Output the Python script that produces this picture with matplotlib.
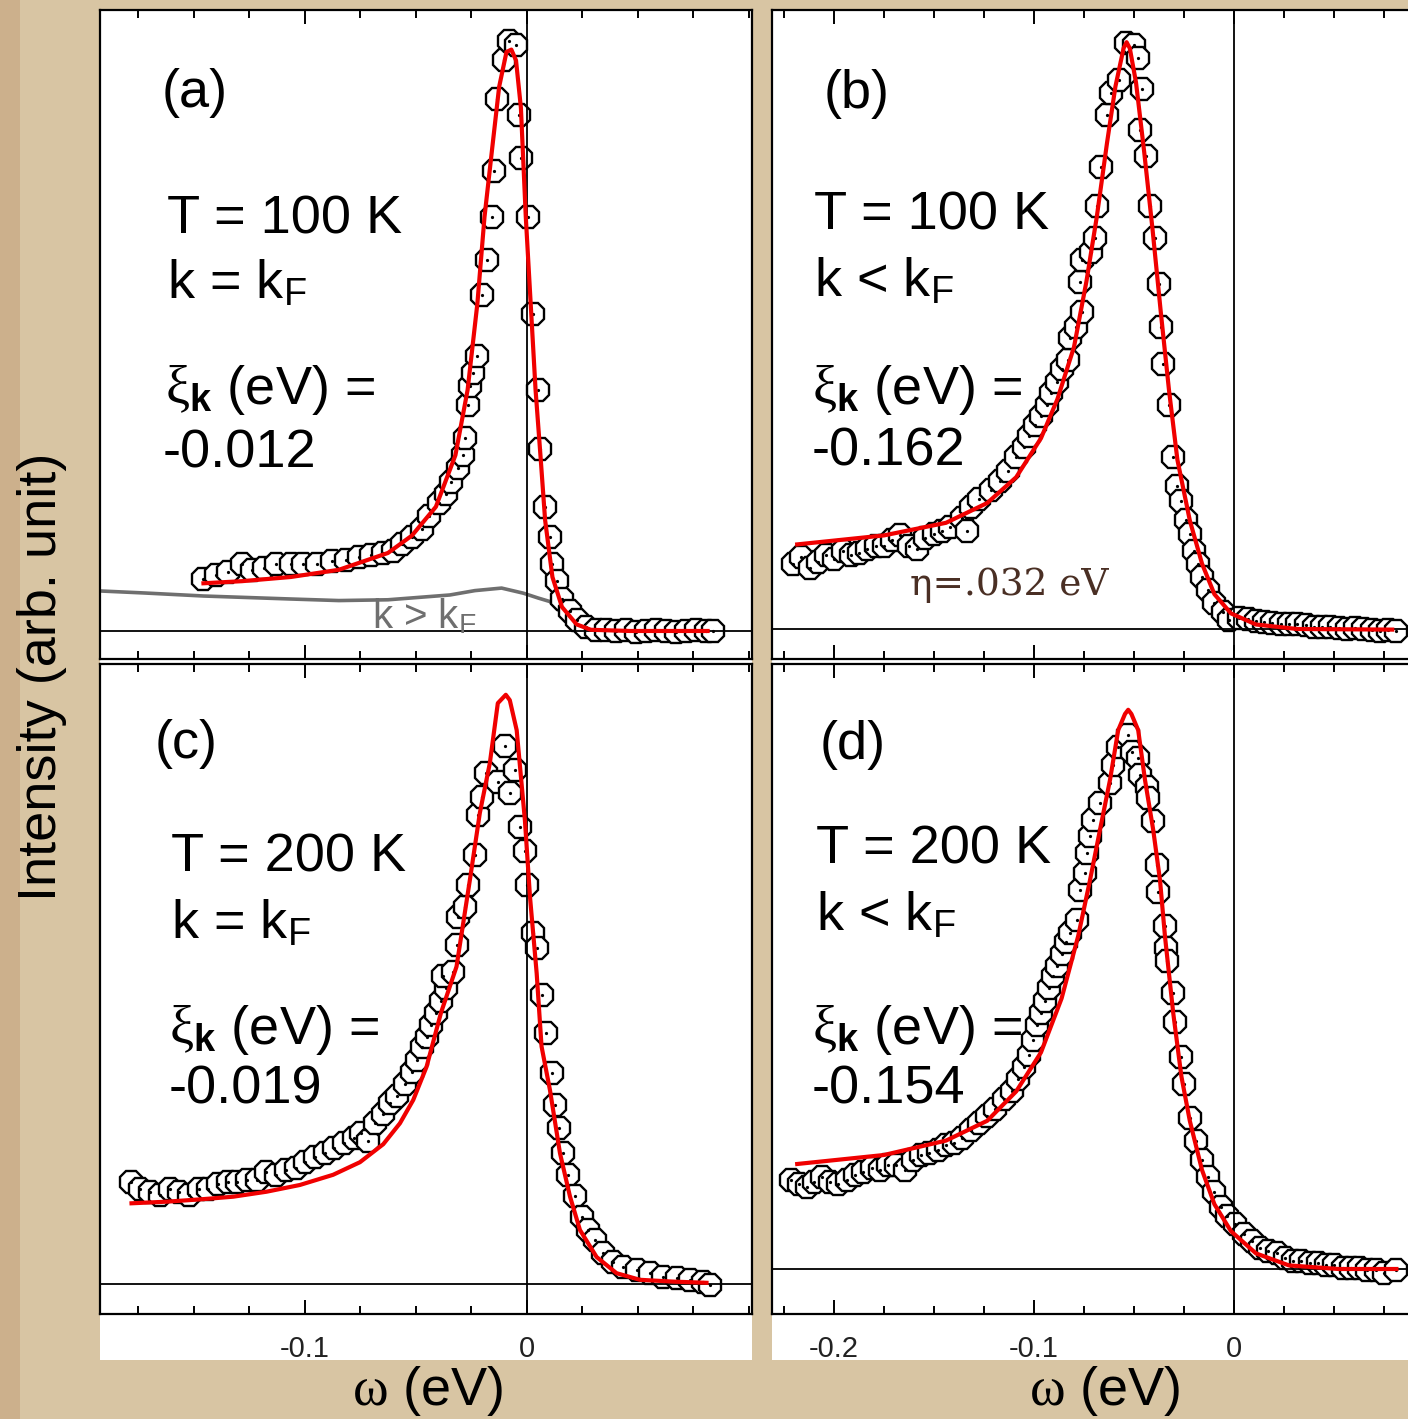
import matplotlib.pyplot as plt
from matplotlib.patches import Rectangle
from matplotlib.ticker import FixedLocator, MultipleLocator

plt.rcParams['font.family'] = ['Liberation Sans', 'DejaVu Sans']
plt.rcParams['mathtext.fontset'] = 'custom'
plt.rcParams['mathtext.rm'] = 'Liberation Serif'
plt.rcParams['mathtext.it'] = 'Liberation Serif:italic'
plt.rcParams['mathtext.bf'] = 'Liberation Sans:bold'

# ---------------- data (omega in eV, intensity in arb. unit) ----------------
# (a) T = 100 K, k = kF
a_w = [-0.1457, -0.1402, -0.1348, -0.1282, -0.1238, -0.1184, -0.1129, -0.1064, -0.1009, -0.0944,
       -0.0878, -0.0813, -0.0758, -0.0704, -0.0649, -0.0605, -0.0562, -0.0518, -0.0474, -0.0441,
       -0.0398, -0.0365, -0.0343, -0.0310, -0.0289, -0.0278, -0.0267, -0.0256, -0.0245, -0.0223,
       -0.0201, -0.0180, -0.0158, -0.0147, -0.0136, -0.0103, -0.0081, -0.0049, -0.0037, -0.0027,
       0.0006, 0.0028, 0.0050, 0.0061, 0.0082, 0.0105, 0.0115, 0.0137, 0.0159, 0.0192,
       0.0224, 0.0268, 0.0311, 0.0356, 0.0401, 0.0446, 0.0491, 0.0536, 0.0581, 0.0626,
       0.0671, 0.0716, 0.0761, 0.0806, 0.0838]
a_i = [0.087, 0.094, 0.098, 0.112, 0.101, 0.105, 0.112, 0.112, 0.112, 0.112,
       0.116, 0.119, 0.123, 0.127, 0.130, 0.134, 0.145, 0.156, 0.170, 0.192,
       0.213, 0.228, 0.249, 0.271, 0.293, 0.322, 0.376, 0.409, 0.430, 0.459,
       0.560, 0.618, 0.690, 0.766, 0.886, 0.951, 0.983, 0.976, 0.860, 0.788,
       0.690, 0.528, 0.401, 0.304, 0.206, 0.156, 0.112, 0.083, 0.054, 0.033,
       0.018, 0.007, 0.002, 0.001, 0.000, 0.001, -0.001, 0.000, 0.001, 0.000,
       -0.001, 0.000, 0.001, 0.000, 0.000]
af_w = [-0.1457, -0.1284, -0.1063, -0.0847, -0.0626, -0.0518, -0.0410, -0.0322, -0.0267, -0.0223,
        -0.0191, -0.0158, -0.0125, -0.0092, -0.0070, -0.0049, -0.0027, -0.0005, 0.0017, 0.0039,
        0.0061, 0.0082, 0.0115, 0.0158, 0.0224, 0.0288, 0.0464, 0.0814]
af_i = [0.0795, 0.083, 0.090, 0.102, 0.130, 0.159, 0.207, 0.293, 0.402, 0.546,
        0.690, 0.799, 0.907, 0.965, 0.969, 0.951, 0.872, 0.690, 0.546, 0.402,
        0.293, 0.185, 0.090, 0.040, 0.011, 0.002, 0.000, 0.000]
# grey reference curve k > kF in (a)
ag_w = [-0.1923, -0.1721, -0.1457, -0.1064, -0.0847, -0.0626, -0.0347, -0.0234, -0.0114, -0.0016,
        0.0050, 0.0104, 0.0137, 0.0194]
ag_i = [0.0667, 0.0633, 0.0583, 0.0533, 0.0507, 0.0520, 0.0600, 0.0673, 0.0715, 0.0630,
        0.0550, 0.0490, 0.0362, 0.0217]

# (b) T = 100 K, k < kF
b_w = [-0.2204, -0.2164, -0.2122, -0.2081, -0.2040, -0.1998, -0.1957, -0.1916, -0.1874, -0.1833,
       -0.1792, -0.1750, -0.1709, -0.1668, -0.1626, -0.1585, -0.1544, -0.1502, -0.1461, -0.1420,
       -0.1358, -0.1337, -0.1317, -0.1275, -0.1213, -0.1172, -0.1131, -0.1089, -0.1048, -0.1027,
       -0.0996, -0.0965, -0.0934, -0.0914, -0.0883, -0.0862, -0.0831, -0.0821, -0.0790, -0.0759,
       -0.0769, -0.0759, -0.0717, -0.0697, -0.0686, -0.0666, -0.0635, -0.0614, -0.0573, -0.0542,
       -0.0500, -0.0480, -0.0459, -0.0469, -0.0438, -0.0418, -0.0397, -0.0376, -0.0366, -0.0356,
       -0.0325, -0.0304, -0.0283, -0.0263, -0.0242, -0.0221, -0.0201, -0.0180, -0.0160, -0.0129,
       -0.0098, -0.0056, -0.0025, 0.0027, 0.0070, 0.0110, 0.0151, 0.0192, 0.0234, 0.0275,
       0.0316, 0.0358, 0.0399, 0.0440, 0.0481, 0.0523, 0.0564, 0.0605, 0.0647, 0.0688,
       0.0729, 0.0771, 0.0812]
b_i = [0.109, 0.120, 0.102, 0.112, 0.123, 0.116, 0.130, 0.123, 0.127, 0.134,
       0.138, 0.138, 0.149, 0.156, 0.138, 0.134, 0.152, 0.159, 0.163, 0.170,
       0.185, 0.163, 0.203, 0.217, 0.232, 0.246, 0.264, 0.286, 0.304, 0.322,
       0.340, 0.355, 0.373, 0.394, 0.412, 0.434, 0.449, 0.485, 0.503, 0.528,
       0.579, 0.615, 0.629, 0.651, 0.705, 0.770, 0.857, 0.893, 0.915, 0.976,
       0.973, 0.951, 0.900, 0.832, 0.788, 0.705, 0.651, 0.575, 0.503, 0.441,
       0.373, 0.286, 0.239, 0.214, 0.181, 0.159, 0.130, 0.109, 0.087, 0.065,
       0.044, 0.029, 0.015, 0.018, 0.016, 0.014, 0.011, 0.010, 0.008, 0.008,
       0.008, 0.006, 0.004, 0.004, 0.004, 0.002, 0.000, 0.001, 0.000, -0.001,
       -0.003, -0.002, -0.003]
bf_w = [-0.2184, -0.1750, -0.1440, -0.1234, -0.1089, -0.0965, -0.0883, -0.0800, -0.0738, -0.0686,
        -0.0635, -0.0593, -0.0552, -0.0537, -0.0521, -0.0490, -0.0449, -0.0407, -0.0366, -0.0325,
        -0.0283, -0.0221, -0.0160, -0.0098, -0.0015, 0.0110, 0.0316, 0.0791]
bf_i = [0.141, 0.156, 0.177, 0.210, 0.253, 0.318, 0.383, 0.470, 0.579, 0.687,
        0.810, 0.904, 0.968, 0.978, 0.968, 0.911, 0.795, 0.665, 0.528, 0.398,
        0.282, 0.181, 0.109, 0.058, 0.026, 0.0075, 0.000, -0.001]

# (c) T = 200 K, k = kF
c_w = [-0.1784, -0.1741, -0.1697, -0.1653, -0.1609, -0.1566, -0.1523, -0.1479, -0.1435, -0.1391,
       -0.1348, -0.1304, -0.1260, -0.1217, -0.1173, -0.1129, -0.1086, -0.1042, -0.0998, -0.0955,
       -0.0911, -0.0867, -0.0823, -0.0780, -0.0747, -0.0714, -0.0682, -0.0649, -0.0616, -0.0583,
       -0.0551, -0.0518, -0.0496, -0.0474, -0.0452, -0.0431, -0.0409, -0.0387, -0.0365, -0.0376,
       -0.0332, -0.0317, -0.0309, -0.0279, -0.0264, -0.0234, -0.0219, -0.0204, -0.0182, -0.0129,
       -0.0099, -0.0054, -0.0077, -0.0032, -0.0009, -0.0001, 0.0028, 0.0044, 0.0066, 0.0086,
       0.0111, 0.0126, 0.0145, 0.0164, 0.0186, 0.0216, 0.0246, 0.0276, 0.0306, 0.0342,
       0.0387, 0.0432, 0.0494, 0.0554, 0.0613, 0.0674, 0.0734, 0.0793, 0.0824]
c_i = [0.170, 0.158, 0.153, 0.149, 0.158, 0.153, 0.149, 0.158, 0.158, 0.166,
       0.170, 0.170, 0.174, 0.174, 0.186, 0.182, 0.190, 0.194, 0.203, 0.211,
       0.219, 0.227, 0.235, 0.243, 0.252, 0.239, 0.268, 0.284, 0.301, 0.313,
       0.333, 0.354, 0.374, 0.395, 0.411, 0.431, 0.452, 0.472, 0.493, 0.513,
       0.520, 0.565, 0.612, 0.629, 0.665, 0.715, 0.782, 0.812, 0.851, 0.837,
       0.896, 0.857, 0.818, 0.762, 0.721, 0.665, 0.585, 0.560, 0.482, 0.418,
       0.352, 0.298, 0.260, 0.218, 0.182, 0.146, 0.112, 0.090, 0.073, 0.052,
       0.037, 0.028, 0.023, 0.018, 0.012, 0.010, 0.007, 0.003, -0.002]
cf_w = [-0.1781, -0.1623, -0.1473, -0.1323, -0.1173, -0.1023, -0.0873, -0.0752, -0.0647, -0.0572,
        -0.0512, -0.0452, -0.0387, -0.0317, -0.0257, -0.0212, -0.0167, -0.0131, -0.0095, -0.0077,
        -0.0046, -0.0009, 0.0014, 0.0044, 0.0066, 0.0104, 0.0149, 0.0194, 0.0239, 0.0314,
        0.0404, 0.0509, 0.0658, 0.0809]
cf_i = [0.1345, 0.1372, 0.141, 0.1455, 0.1538, 0.165, 0.182, 0.203, 0.233, 0.2678,
        0.3067, 0.362, 0.452, 0.529, 0.673, 0.785, 0.868, 0.968, 0.982, 0.973,
        0.923, 0.773, 0.645, 0.518, 0.396, 0.323, 0.218, 0.146, 0.090, 0.045,
        0.018, 0.007, 0.004, 0.002]

# (d) T = 200 K, k < kF
d_w = [-0.2215, -0.2174, -0.2133, -0.2102, -0.2060, -0.2019, -0.1978, -0.1936, -0.1895, -0.1854,
       -0.1812, -0.1771, -0.1730, -0.1688, -0.1647, -0.1606, -0.1564, -0.1523, -0.1482, -0.1440,
       -0.1399, -0.1358, -0.1317, -0.1275, -0.1234, -0.1193, -0.1151, -0.1110, -0.1079, -0.1048,
       -0.1027, -0.1006, -0.0986, -0.0965, -0.0944, -0.0924, -0.0903, -0.0883, -0.0862, -0.0841,
       -0.0821, -0.0787, -0.0770, -0.0745, -0.0737, -0.0720, -0.0703, -0.0670, -0.0620, -0.0604,
       -0.0579, -0.0529, -0.0512, -0.0479, -0.0470, -0.0437, -0.0429, -0.0404, -0.0387, -0.0379,
       -0.0345, -0.0338, -0.0335, -0.0304, -0.0294, -0.0263, -0.0252, -0.0221, -0.0190, -0.0160,
       -0.0129, -0.0098, -0.0067, -0.0035, 0.0006, 0.0048, 0.0089, 0.0130, 0.0172, 0.0213,
       0.0254, 0.0296, 0.0337, 0.0378, 0.0420, 0.0461, 0.0502, 0.0543, 0.0585, 0.0626,
       0.0667, 0.0709, 0.0750, 0.0812]
d_i = [0.149, 0.141, 0.137, 0.145, 0.153, 0.145, 0.141, 0.149, 0.157, 0.161,
       0.169, 0.165, 0.173, 0.173, 0.165, 0.182, 0.190, 0.194, 0.198, 0.206,
       0.210, 0.218, 0.231, 0.243, 0.255, 0.267, 0.284, 0.296, 0.316, 0.337,
       0.357, 0.382, 0.406, 0.427, 0.447, 0.468, 0.488, 0.505, 0.525, 0.545,
       0.560, 0.582, 0.632, 0.660, 0.693, 0.721, 0.748, 0.776, 0.810, 0.840,
       0.870, 0.890, 0.862, 0.851, 0.823, 0.804, 0.785, 0.746, 0.673, 0.629,
       0.571, 0.535, 0.513, 0.460, 0.411, 0.353, 0.308, 0.251, 0.214, 0.182,
       0.153, 0.129, 0.104, 0.088, 0.075, 0.059, 0.047, 0.035, 0.030, 0.026,
       0.018, 0.014, 0.014, 0.010, 0.010, 0.006, 0.006, 0.002, 0.002, 0.002,
       -0.002, -0.002, -0.006, -0.002]
df_w = [-0.2184, -0.1750, -0.1440, -0.1234, -0.1089, -0.0965, -0.0862, -0.0779, -0.0720, -0.0670,
        -0.0620, -0.0579, -0.0545, -0.0529, -0.0513, -0.0479, -0.0445, -0.0404, -0.0370, -0.0345,
        -0.0304, -0.0263, -0.0221, -0.0160, -0.0098, -0.0015, 0.0110, 0.0275, 0.0523, 0.0812]
df_i = [0.175, 0.190, 0.214, 0.247, 0.296, 0.361, 0.451, 0.555, 0.648, 0.732,
        0.815, 0.898, 0.925, 0.932, 0.925, 0.898, 0.815, 0.732, 0.648, 0.554,
        0.427, 0.321, 0.247, 0.165, 0.108, 0.063, 0.026, 0.006, 0.000, 0.000]

panel_tags = ["(a)", "(b)", "(c)", "(d)"]
temps = ["T = 100 K", "T = 100 K", "T = 200 K", "T = 200 K"]
k_labels = [r"k = k$_\mathregular{F}$", r"k < k$_\mathregular{F}$",
            r"k = k$_\mathregular{F}$", r"k < k$_\mathregular{F}$"]
xi_values = ["-0.012", "-0.162", "-0.019", "-0.154"]
left_ticks = [-0.1, 0.0]
left_ticklabels = ["-0.1", "0"]
right_ticks = [-0.2, -0.1, 0.0]
right_ticklabels = ["-0.2", "-0.1", "0"]

# ---------------- layout (pixels of a 1408 x 1419 canvas) ----------------
W, H = 1408, 1419
fig = plt.figure(figsize=(W / 100, H / 100), dpi=100)
fig.patch.set_facecolor('#d8c5a3')


def box(l, t, r, b):
    return [l / W, 1 - b / H, (r - l) / W, (b - t) / H]


def fx(x):
    return x / W


def fy(y):
    return 1 - y / H


# slightly darker left edge of the parchment
fig.add_artist(Rectangle((0, 0), 20 / W, 1, transform=fig.transFigure,
                         facecolor='#ccb08c', edgecolor='none', zorder=-2))
# white paper behind each column (includes the tick-label strip)
for l, r in [(100, 752), (772, 1430)]:
    fig.add_artist(Rectangle((fx(l), fy(1360)), (r - l) / W, 1350 / H,
                             transform=fig.transFigure, facecolor='white',
                             edgecolor='none', zorder=-1))

panels = [
    dict(rect=box(100, 10, 752, 659), xlim=(-0.1923, 0.1014), ylim=(-0.0467, 1.035),
         w=a_w, i=a_i, fw=af_w, fi=af_i, ticks=left_ticks, labels=None),
    dict(rect=box(772, 10, 1424, 659), xlim=(-0.231, 0.095), ylim=(-0.05, 1.0317),
         w=b_w, i=b_i, fw=bf_w, fi=bf_i, ticks=right_ticks, labels=None),
    dict(rect=box(100, 664, 752, 1314), xlim=(-0.1923, 0.1014), ylim=(-0.05, 1.0333),
         w=c_w, i=c_i, fw=cf_w, fi=cf_i, ticks=left_ticks, labels=left_ticklabels),
    dict(rect=box(772, 664, 1424, 1314), xlim=(-0.231, 0.095), ylim=(-0.075, 1.0083),
         w=d_w, i=d_i, fw=df_w, fi=df_i, ticks=right_ticks, labels=right_ticklabels),
]

axes = []
for p in panels:
    ax = fig.add_axes(p['rect'])
    ax.set_facecolor('white')
    ax.set_xlim(*p['xlim'])
    ax.set_ylim(*p['ylim'])
    ax.plot(p['w'], p['i'], linestyle='none', marker='8', markersize=17,
            markerfacecolor='white', markeredgecolor='black', markeredgewidth=1.7, zorder=3)
    ax.plot(p['w'], p['i'], linestyle='none', marker='o', markersize=1.3,
            color='black', zorder=3.2)
    ax.axhline(0, color='black', lw=1.3, zorder=3.5)
    ax.axvline(0, color='black', lw=1.3, zorder=3.5)
    ax.plot(p['fw'], p['fi'], color='#f00000', lw=3.0, zorder=4, solid_joinstyle='round')

    ax.xaxis.set_major_locator(FixedLocator(p['ticks']))
    ax.xaxis.set_minor_locator(MultipleLocator(0.025))
    ax.tick_params(axis='x', which='both', direction='in', top=True, bottom=True,
                   width=1.4, color='black', pad=15)
    ax.tick_params(axis='x', which='major', length=10)
    ax.tick_params(axis='x', which='minor', length=6)
    ax.tick_params(axis='y', left=False, right=False, labelleft=False)
    if p['labels'] is None:
        ax.tick_params(axis='x', labelbottom=False)
    else:
        ax.set_xticklabels(p['labels'], fontsize=21, color='#222222')
    for s in ax.spines.values():
        s.set_linewidth(1.6)
    axes.append(ax)

# grey k > kF curve in panel (a)
axes[0].plot(ag_w, ag_i, color='#6f6f6f', lw=2.6, zorder=2)

# panel annotations
tag_pos = [(162, 107), (824, 108), (155, 758), (820, 759)]
t_pos = [(167, 233), (814, 229), (171, 871), (816, 863)]
k_pos = [(167, 299), (814, 296), (171, 938), (816, 930)]
xi_pos = [(165, 404), (812, 404), (169, 1044), (812, 1044)]
val_pos = [(163, 467), (812, 466), (169, 1104), (812, 1104)]
fs = 39
for n in range(4):
    fig.text(fx(tag_pos[n][0]), fy(tag_pos[n][1]), panel_tags[n], fontsize=fs, va='baseline')
    fig.text(fx(t_pos[n][0]), fy(t_pos[n][1]), temps[n], fontsize=fs, va='baseline')
    fig.text(fx(k_pos[n][0]), fy(k_pos[n][1]), k_labels[n], fontsize=fs, va='baseline')
    fig.text(fx(xi_pos[n][0]), fy(xi_pos[n][1]), r"$\mathrm{\xi}_{\mathbf{k}}$ (eV) =",
             fontsize=fs, va='baseline')
    fig.text(fx(val_pos[n][0]), fy(val_pos[n][1]), xi_values[n], fontsize=fs, va='baseline')

fig.text(fx(372), fy(628), r"k > k$_\mathregular{F}$", fontsize=29, color='#6f6f6f',
         va='baseline')
fig.text(fx(910), fy(595), "η=.032 eV", fontsize=27, color='#4a2f24',
         family=['DejaVu Serif'], va='baseline')

# axis titles
fig.text(fx(428), fy(1405), r"$\mathrm{\omega}$ (eV)", fontsize=fs, ha='center', va='baseline')
fig.text(fx(1105), fy(1405), r"$\mathrm{\omega}$ (eV)", fontsize=fs, ha='center', va='baseline')
fig.text(fx(42), fy(677), "Intensity (arb. unit)", fontsize=fs, rotation=90,
         ha='center', va='center')

fig.savefig("out.png", dpi=100, facecolor=fig.get_facecolor())
